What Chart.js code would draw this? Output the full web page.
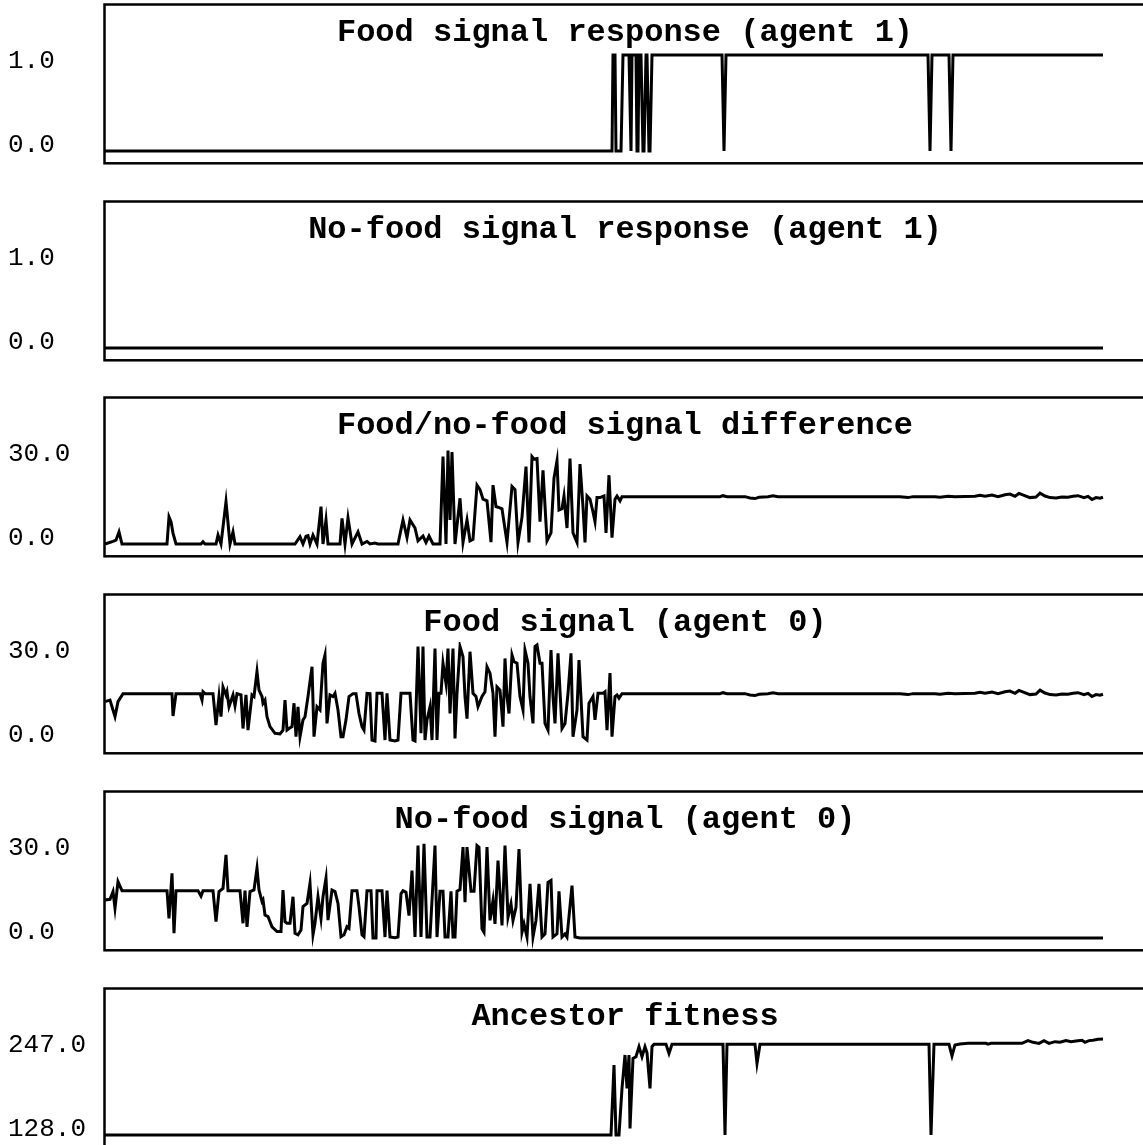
<!DOCTYPE html>
<html>
<head>
<meta charset="utf-8">
<script src="https://cdn.jsdelivr.net/npm/chart.js@4.4.1/dist/chart.umd.min.js"></script>
<style>
  html, body { margin: 0; padding: 0; background: #fff; overflow: hidden; width: 1143px; height: 1145px; }
  canvas { position: absolute; left: 0; }
</style>
</head>
<body>
<script>
// Titles and y tick labels (min, max) of the six panels
const titles = [
    'Food signal response (agent 1)',
    'No-food signal response (agent 1)',
    'Food/no-food signal difference',
    'Food signal (agent 0)',
    'No-food signal (agent 0)',
    'Ancestor fitness'
];
const tickLabels = [
    ['0.0', '1.0'],
    ['0.0', '1.0'],
    ['0.0', '30.0'],
    ['0.0', '30.0'],
    ['0.0', '30.0'],
    ['128.0', '247.0']
];
const ranges = [[0, 1], [0, 1], [0, 30], [0, 30], [0, 30], [128, 247]];

// Food signal response (agent 1)
const foodRespX = [0, 507, 508, 510, 511, 516, 518, 524, 526, 527, 531, 532, 533, 534, 536, 538, 539, 541, 542, 544, 545, 547, 548, 617, 619, 621, 823, 825, 827, 844, 846, 848, 998];
const foodRespY = [0, 0, 1, 1, 0, 0, 1, 1, 0, 1, 1, 0, 0, 1, 1, 0, 0, 1, 1, 0, 0, 1, 1, 1, 0, 1, 1, 0, 1, 1, 0, 1, 1];

// No-food signal response (agent 1)
const noFoodRespX = [0, 998];
const noFoodRespY = [0, 0];

// Late, settled part shared by the food signal and the difference
const settledX = [615, 618, 622, 640, 645, 650, 654, 663, 668, 673, 795, 803, 808, 830, 835, 843, 850, 870, 875, 880, 887, 893, 900, 905, 910, 914, 919, 925, 931, 935, 940, 945, 951, 957, 963, 968, 973, 979, 983, 987, 991, 995, 998];
const settledY = [14.8, 15.1, 14.8, 14.8, 14.4, 14.2, 14.6, 14.8, 15.1, 14.8, 14.8, 14.5, 14.8, 14.8, 14.6, 14.9, 14.8, 14.9, 15.2, 14.9, 15.3, 14.8, 15.4, 15.6, 14.9, 15.8, 15.2, 14.5, 14.7, 15.9, 15.0, 14.5, 14.4, 14.7, 14.6, 14.9, 15.1, 14.5, 14.9, 13.9, 14.5, 14.3, 14.6];

// Food/no-food signal difference
const diffX = [0, 8, 11, 14, 17, 62, 64, 66, 68, 71, 96, 98, 100, 111, 113, 116, 121, 125, 128, 130, 190, 195, 198, 201, 203, 205, 208, 212, 216, 218, 221, 223, 235, 237, 240, 243, 247, 253, 257, 262, 265, 270, 273, 293, 298, 302, 305, 310, 313, 318, 321, 324, 328, 335, 338, 341, 343, 345, 347, 350, 355, 358, 362, 365, 368, 372, 375, 378, 382, 386, 388, 391, 393, 397, 402, 407, 410, 413, 417, 421, 424, 427, 429, 432, 435, 438, 442, 446, 449, 452, 454, 457, 459, 462, 465, 468, 472, 475, 478, 480, 482, 485, 488, 490, 492, 495, 499, 501, 504, 507, 510, 512, 515, 517];
const diffY = [0, 0.8, 1.2, 3.8, 0, 0, 8.5, 7, 3.4, 0, 0, 0.7, 0, 0, 2.8, 0, 13.2, 0, 3.8, 0, 0, 2.3, 0, 2.4, 2.6, 0, 2.8, 0, 11.7, 0, 7.5, 0, 0, 8, 0, 8.2, 0, 3.8, 0, 0.8, 0, 0.3, 0, 0, 7.5, 2, 7.5, 5, 1, 2.5, 0.5, 2.5, 0, 0, 27.3, 0, 29.2, 7.5, 28.7, 0, 14.3, 0.5, 7.5, 1, 1.5, 18.4, 17, 14, 13.5, 0.6, 18.4, 11.7, 11.5, 11, 0.5, 18, 17, 0.5, 8.4, 24.2, 0.5, 27.3, 26.5, 26.7, 7, 23, 1, 3.5, 20.6, 26, 10.6, 11, 15, 5, 26.7, 3.5, 0.5, 25, 11.5, 0.5, 15, 14, 10, 7, 14.5, 14.5, 15, 3.5, 21.5, 2, 14, 15, 13.5, 14.8];

// Food signal (agent 0)
const foodX = [0, 5, 10, 13, 18, 67, 68, 71, 95, 97, 98, 100, 108, 111, 114, 116, 118, 121, 122, 124, 128, 130, 132, 136, 138, 141, 143, 147, 149, 152, 154, 157, 158, 160, 162, 165, 170, 175, 178, 180, 182, 184, 187, 189, 191, 193, 195, 198, 200, 203, 207, 209, 212, 215, 218, 220, 222, 225, 228, 230, 233, 236, 238, 241, 244, 248, 251, 254, 257, 259, 262, 265, 267, 270, 272, 277, 280, 282, 285, 290, 293, 296, 305, 308, 310, 313, 316, 318, 320, 322, 325, 327, 330, 332, 334, 336, 338, 341, 343, 345, 348, 350, 352, 355, 358, 360, 362, 365, 368, 371, 373, 377, 380, 382, 385, 388, 390, 392, 395, 398, 400, 402, 404, 407, 409, 412, 415, 418, 420, 423, 425, 428, 430, 432, 435, 437, 440, 443, 446, 448, 450, 453, 457, 460, 463, 466, 468, 472, 474, 478, 482, 484, 488, 490, 493, 498, 500, 502, 505, 507, 510, 512, 514, 517];
const foodY = [12.3, 12.8, 7.6, 12.3, 14.8, 14.8, 7.8, 14.8, 14.8, 12.8, 15.4, 14.8, 14.8, 5.0, 13.9, 7.6, 16.9, 14.4, 15.4, 10.7, 14.4, 11, 14.8, 14.4, 3.9, 14.4, 3.4, 14.4, 13.9, 21.7, 15.9, 13.9, 11.8, 12.8, 7.6, 4.5, 2.4, 2.2, 3.4, 12.8, 3.4, 3.9, 4.5, 11.8, 1.35, 10.7, 1.35, 6.6, 7.6, 13.9, 23.2, 1.35, 10.7, 9.7, 24.3, 26.9, 5.5, 14.4, 13.9, 14.9, 9.7, 1.35, 1.35, 6.6, 13.9, 14.8, 14.8, 8.6, 4.5, 3.4, 14.9, 14.8, 0.3, 0, 14.9, 14.9, 0.3, 14.9, 0.3, 0, 0.3, 14.9, 14.9, 0.3, 0, 29.5, 2.4, 29.5, 0.3, 6.6, 10.7, 0.3, 28.9, 0.3, 14.9, 14.9, 24.3, 18, 28.9, 8.6, 28.9, 0.8, 14.9, 29.5, 26.3, 13.9, 7, 27.9, 14.9, 13.9, 10.7, 13.9, 15.4, 23.2, 21.2, 14.9, 1.35, 16.9, 15.9, 4.5, 25.8, 13.9, 8.6, 26.9, 24.8, 24.3, 13.9, 9.7, 28.4, 24.3, 13.9, 5.5, 29.5, 30, 24.3, 24.3, 5.5, 3.4, 28.4, 13.9, 5.5, 27.4, 3.9, 5.5, 14.9, 27.4, 1.35, 9.7, 25.3, 1.35, 0.3, 11.8, 13.9, 6.6, 14.9, 14.9, 15.4, 3.4, 21.2, 1.35, 13.9, 14.4, 13.4, 14.8];

// No-food signal (agent 0)
const noFoodX = [0, 5, 8, 10, 13, 17, 62, 64, 67, 69, 71, 93, 96, 98, 108, 111, 114, 118, 121, 123, 135, 138, 140, 142, 145, 149, 152, 154, 157, 158, 160, 163, 167, 172, 176, 178, 180, 182, 185, 188, 190, 193, 196, 198, 202, 205, 208, 210, 213, 216, 218, 221, 223, 227, 230, 233, 236, 239, 242, 244, 247, 252, 254, 257, 259, 262, 266, 268, 271, 272, 277, 280, 282, 285, 290, 293, 296, 298, 301, 304, 307, 310, 313, 316, 319, 322, 325, 330, 332, 335, 338, 340, 343, 346, 348, 350, 352, 355, 358, 360, 362, 366, 369, 372, 374, 377, 379, 382, 385, 388, 390, 393, 397, 400, 403, 406, 408, 411, 414, 417, 419, 422, 425, 428, 431, 434, 437, 440, 443, 446, 448, 452, 454, 457, 460, 462, 467, 470, 475, 998];
const noFoodY = [11.9, 12.1, 14.5, 9.3, 17.6, 14.8, 14.8, 6.1, 20.2, 1.5, 14.8, 14.8, 13.1, 14.8, 14.8, 5.1, 14.5, 15.5, 26, 14.8, 14.8, 4.6, 14.8, 3.5, 14.5, 15, 21.8, 15, 11.4, 11.9, 7.2, 6.7, 3.5, 2, 2, 15, 5.1, 4.6, 4.6, 12.9, 1.5, 1, 2.5, 9.8, 10.8, 17.1, 1, 4.6, 12.9, 6.1, 12.9, 18.7, 5.6, 15, 14.5, 10.8, 0.4, 1, 3.5, 3, 14.8, 14.8, 9.8, 1, 0.4, 14.8, 14.8, 0, 0, 14.8, 14.8, 0.3, 14.8, 0.3, 0.1, 0.3, 13.8, 14.8, 14.3, 7, 21.1, 0.3, 28.9, 0.3, 29.4, 0.3, 0.3, 28.9, 0.3, 14.6, 14.6, 0.3, 0.3, 14.6, 0.3, 0.3, 14.6, 15.1, 28.4, 11.2, 28.4, 14.6, 14.6, 28.9, 28.4, 2.9, 1.8, 28.4, 5.5, 11.7, 4.4, 24.2, 3.9, 28.9, 6.5, 10.7, 5.5, 9.6, 27.8, 1.8, 4.4, 0.3, 16.9, 0.3, 5.5, 16.9, 0.3, 1.3, 17.4, 18, 0.3, 1.3, 14.6, 0.3, 1.3, 0.3, 16.4, 0.3, 0, 0];

// Ancestor fitness
const fitnessX = [0, 506, 509, 511, 514, 517, 520, 522, 524, 525, 528, 531, 534, 537, 540, 542, 545, 547, 549, 561, 564, 567, 618, 620, 622, 650, 652, 655, 824, 826, 829, 844, 847, 850, 855, 863, 881, 883, 886, 917, 923, 928, 934, 939, 944, 950, 955, 961, 966, 971, 977, 980, 984, 988, 993, 998];
const fitnessY = [128, 128, 214.8, 128, 128, 185.8, 227.2, 185.8, 227.2, 136, 223, 225, 237.5, 225, 237.5, 230, 185.8, 237.5, 240.4, 240.4, 229, 240.4, 240.4, 128, 240.4, 240.4, 216.8, 240.4, 240.4, 128, 240.4, 240.4, 226, 239.6, 240.8, 241.6, 241.6, 240.5, 241.6, 241.6, 245, 242.9, 241.6, 245, 241.6, 243.7, 242.9, 245, 243.7, 244.6, 245.4, 242.9, 245, 245.4, 246.6, 247];

const seriesX = [foodRespX, noFoodRespX, diffX.concat(settledX), foodX.concat(settledX), noFoodX, fitnessX];
const seriesY = [foodRespY, noFoodRespY, diffY.concat(settledY), foodY.concat(settledY), noFoodY, fitnessY];

// Layout (pixels inside each panel canvas)
const MONO = "'Liberation Mono', 'Courier New', monospace";
const PANEL_W = 1242, PANEL_H = 197, PANEL_STEP = 196.7;
const FRAME_TOP = 4.5, AREA_TOP = 52, AREA_BOTTOM = 163.3;
const MIN_PX = 151, MAX_PX = 55;

const framePlugin = {
    id: 'frame',
    afterDraw(chart) {
        const { ctx, chartArea: a } = chart;
        ctx.save();
        ctx.strokeStyle = '#000';
        ctx.lineWidth = 2.5;
        ctx.strokeRect(a.left, FRAME_TOP, a.right - a.left, a.bottom - FRAME_TOP);
        ctx.restore();
    }
};

function makePanel(i) {
    const canvas = document.createElement('canvas');
    canvas.width = PANEL_W;
    canvas.height = PANEL_H;
    canvas.style.top = Math.round(i * PANEL_STEP) + 'px';
    document.body.appendChild(canvas);

    const [lo, hi] = ranges[i];
    const ppu = (MIN_PX - MAX_PX) / (hi - lo);
    const yMin = lo - (AREA_BOTTOM - MIN_PX) / ppu;
    const yMax = hi + (MAX_PX - AREA_TOP) / ppu;
    const points = seriesX[i].map((x, k) => ({ x: x, y: seriesY[i][k] }));

    new Chart(canvas, {
        type: 'line',
        data: {
            datasets: [{
                data: points,
                borderColor: '#000',
                borderWidth: 3,
                pointRadius: 0,
                tension: 0,
                fill: false
            }]
        },
        options: {
            responsive: false,
            animation: false,
            events: [],
            layout: { padding: { left: 8, top: 0, right: 0, bottom: PANEL_H - AREA_BOTTOM } },
            plugins: {
                legend: { display: false },
                tooltip: { enabled: false },
                title: {
                    display: true,
                    text: titles[i],
                    color: '#000',
                    font: { family: MONO, size: 32, weight: 'bold', lineHeight: 1.2 },
                    padding: { top: AREA_TOP - 38.4, bottom: 0 }
                }
            },
            scales: {
                x: { type: 'linear', display: false, min: -0.5, max: 1137 },
                y: {
                    type: 'linear',
                    min: yMin,
                    max: yMax,
                    grid: { display: false },
                    border: { display: false },
                    afterFit: s => { s.width = 96.5; },
                    afterBuildTicks: s => {
                        s.ticks = [{ value: lo + 6 / ppu }, { value: hi - 5.8 / ppu }];
                    },
                    ticks: {
                        crossAlign: 'far',
                        padding: 0,
                        color: '#000',
                        font: { family: MONO, size: 26 },
                        callback: (v, idx) => tickLabels[i][idx]
                    }
                }
            }
        },
        plugins: [framePlugin]
    });
}

for (let i = 0; i < titles.length; i++) makePanel(i);
</script>
</body>
</html>
